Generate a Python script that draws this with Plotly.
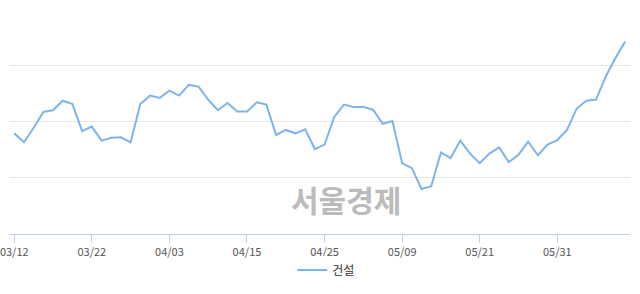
import plotly.graph_objects as go

dates = [
    "03/12", "03/13", "03/14", "03/15", "03/18", "03/19", "03/20", "03/21", "03/22",
    "03/25", "03/26", "03/27", "03/28", "03/29", "04/01", "04/02", "04/03",
    "04/04", "04/05", "04/08", "04/09", "04/10", "04/11", "04/12", "04/15",
    "04/16", "04/17", "04/18", "04/19", "04/22", "04/23", "04/24", "04/25",
    "04/26", "04/29", "04/30", "05/02", "05/03", "05/07", "05/08", "05/09",
    "05/10", "05/13", "05/14", "05/15", "05/16", "05/17", "05/20", "05/21",
    "05/22", "05/23", "05/24", "05/27", "05/28", "05/29", "05/30", "05/31",
    "06/03", "06/04", "06/05", "06/07", "06/10", "06/11", "06/12",
]
values = [
    117.9, 116.3, 118.9, 121.7, 122.0, 123.7, 123.1, 118.3, 119.1,
    116.6, 117.1, 117.2, 116.3, 123.1, 124.6, 124.2, 125.5,
    124.6, 126.5, 126.2, 123.9, 122.0, 123.3, 121.8, 121.8,
    123.4, 123.0, 117.6, 118.5, 117.9, 118.6, 115.1, 115.9,
    120.8, 123.0, 122.6, 122.6, 122.1, 119.6, 120.1, 112.6,
    111.7, 108.0, 108.5, 114.5, 113.5, 116.6, 114.3, 112.6,
    114.3, 115.4, 112.8, 114.1, 116.4, 114.0, 115.9, 116.7,
    118.5, 122.3, 123.7, 123.9, 128.0, 131.3, 134.2,
]
tick_labels = ["03/12", "03/22", "04/03", "04/15", "04/25", "05/09", "05/21", "05/31"]
series_name = "건설"
watermark = "서울경제"

fig = go.Figure()
fig.add_trace(go.Scatter(
    x=dates, y=values, mode="lines", name=series_name,
    line=dict(color="#7cb5ec", width=2),
))

fig.update_layout(
    width=640, height=294,
    margin=dict(l=10, r=10, t=9, b=60, autoexpand=False),
    paper_bgcolor="white", plot_bgcolor="white",
    font=dict(family="Noto Sans CJK KR, sans-serif", color="#555555", size=11),
    showlegend=True,
    legend=dict(orientation="h", x=0.51, xanchor="center", y=-0.16, yanchor="middle",
                font=dict(size=12, color="#333333")),
    xaxis=dict(
        type="category", categoryorder="array", categoryarray=dates,
        range=[-0.44, 63.5], automargin=False,
        tickmode="array", tickvals=tick_labels, ticktext=tick_labels,
        ticks="outside", ticklen=8, tickcolor="#c0d0e0", tickwidth=1,
        showline=True, linecolor="#c0d0e0", linewidth=1,
        showgrid=False, zeroline=False,
        tickfont=dict(size=11, color="#555555"),
    ),
    yaxis=dict(
        range=[100, 140], tickvals=[100, 110, 120, 130, 140], automargin=False,
        showticklabels=False, showgrid=True, gridcolor="#e6e6e6", gridwidth=1,
        zeroline=False, showline=False,
    ),
    annotations=[dict(
        text=f"<b>{watermark}</b>", xref="paper", yref="paper",
        x=0.542, y=0.157, xanchor="center", yanchor="middle",
        showarrow=False, font=dict(size=30, color="#bbbbbb",
                                   family="Noto Sans CJK KR, sans-serif"),
    )],
)

fig.write_html("out.html")
